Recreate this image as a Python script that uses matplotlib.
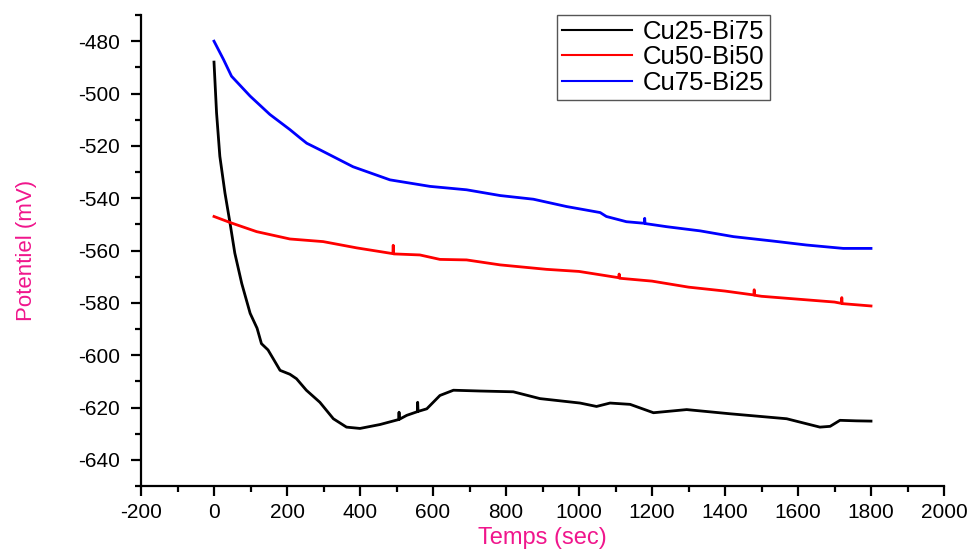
import matplotlib
matplotlib.use("Agg")
import matplotlib.pyplot as plt
from matplotlib.ticker import MultipleLocator

plt.rcParams['font.family'] = ['Liberation Sans', 'DejaVu Sans']
plt.rcParams['axes.unicode_minus'] = False

# ---- data ----
t_black = [0, 7, 16, 30, 44, 57, 76, 99, 118, 130, 148, 162, 181, 208, 226, 253,
           290, 327, 363, 400, 455, 506, 507, 508, 528, 557, 558, 559, 583, 619,
           656, 729, 820, 893, 1003, 1048, 1085, 1140, 1204, 1295, 1414, 1569,
           1660, 1688, 1715, 1760, 1800]
v_black = [-488, -507.4, -524, -538, -549.6, -561, -572.6, -584, -589.7, -595.6,
           -598, -601.3, -605.8, -607.3, -609, -613.4, -618, -624.3, -627.5,
           -628, -626.5, -624.6, -621.8, -624.5, -623, -621.6, -618, -621.5,
           -620.5, -615.4, -613.4, -613.7, -614, -616.6, -618.3, -619.6, -618.3,
           -618.8, -622, -620.8, -622.4, -624.3, -627.5, -627.2, -624.9, -625.1,
           -625.2]

t_red = [0, 48, 117, 208, 299, 391, 490, 491, 492, 564, 619, 692, 784, 911,
         1000, 1109, 1110, 1111, 1200, 1300, 1400, 1479, 1480, 1481, 1500, 1600,
         1700, 1719, 1720, 1721, 1800]
v_red = [-547, -549.5, -552.8, -555.6, -556.6, -559, -561.2, -558, -561.3,
         -561.7, -563.4, -563.6, -565.5, -567.2, -568, -570.4, -569, -570.6,
         -571.7, -574, -575.5, -577, -575, -577.1, -577.5, -578.6, -579.7,
         -580.2, -578, -580.3, -581.2]

t_blue = [0, 26, 48, 99, 153, 208, 236, 254, 290, 381, 482, 592, 692, 784,
          875, 966, 1058, 1075, 1130, 1179, 1180, 1181, 1240, 1332, 1423, 1532,
          1623, 1724, 1800]
v_blue = [-480, -487, -493.4, -501, -508, -513.8, -517, -519, -521.5, -528,
          -533, -535.5, -536.8, -539, -540.4, -543.2, -545.5, -547, -549,
          -549.6, -547.7, -549.7, -550.9, -552.5, -554.7, -556.4, -557.9,
          -559.2, -559.2]

series_labels = ['Cu25-Bi75', 'Cu50-Bi50', 'Cu75-Bi25']
series_colors = ['black', 'red', 'blue']

x_label = 'Temps (sec)'
y_label = 'Potentiel (mV)'

# ---- figure ----
fig = plt.figure(figsize=(9.72, 5.54), dpi=100)
ax = fig.add_axes([141/972, 1-486/554, (944-141)/972, (486-15)/554])

for t, v, lab, col in zip([t_black, t_red, t_blue], [v_black, v_red, v_blue],
                          series_labels, series_colors):
    ax.plot(t, v, color=col, lw=2.0, label=lab, solid_joinstyle='round')

ax.set_xlim(-200, 2000)
ax.set_ylim(-650, -470)
ax.xaxis.set_major_locator(MultipleLocator(200))
ax.xaxis.set_minor_locator(MultipleLocator(100))
ax.yaxis.set_major_locator(MultipleLocator(20))
ax.yaxis.set_minor_locator(MultipleLocator(10))

for s in ['top', 'right']:
    ax.spines[s].set_visible(False)
for s in ['left', 'bottom']:
    ax.spines[s].set_linewidth(1.6)

ax.tick_params(which='major', direction='out', length=7, width=1.6,
               labelsize=15)
ax.tick_params(axis='y', which='major', pad=8)
ax.tick_params(axis='x', which='major', pad=5)
ax.tick_params(which='minor', direction='out', length=4, width=1.6)

ax.set_xlabel(x_label, color='#F0168C', fontsize=17, labelpad=4)
ax.set_ylabel(y_label, color='#F0168C', fontsize=16, labelpad=30)

leg = ax.legend(loc='upper left', bbox_to_anchor=((557-141)/803, 1.0),
                borderaxespad=0, fontsize=18.5, handlelength=2.7,
                labelspacing=0.05, borderpad=0.2, handletextpad=0.45,
                fancybox=False, framealpha=1)
leg.get_frame().set_edgecolor('#555555')
leg.get_frame().set_linewidth(1.0)
for ln in leg.get_lines():
    ln.set_linewidth(1.5)

fig.savefig('out.png', dpi=100)
